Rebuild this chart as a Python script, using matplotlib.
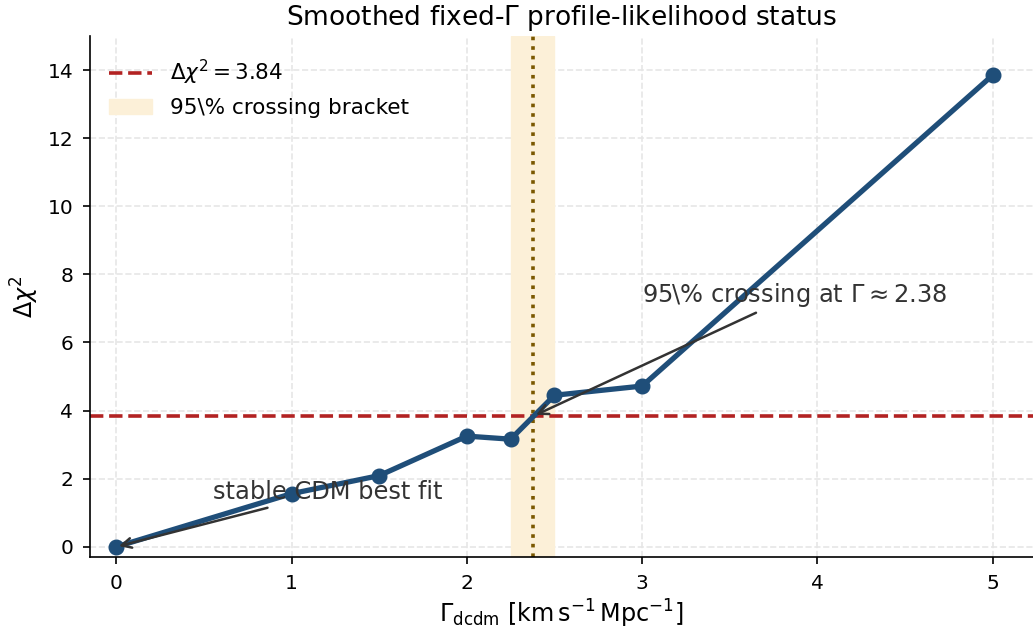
import matplotlib
matplotlib.use("Agg")
import matplotlib.pyplot as plt

gamma = [0.0, 1.0, 1.5, 2.0, 2.25, 2.5, 3.0, 5.0]
dchi2 = [0.0, 1.56, 2.09, 3.25, 3.16, 4.45, 4.72, 13.85]
threshold = 3.84
bracket = [2.25, 2.5]
crossing = 2.38
xticks = [0, 1, 2, 3, 4, 5]
yticks = [0, 2, 4, 6, 8, 10, 12, 14]

plt.rcParams['font.family'] = ['DejaVu Sans']
fig = plt.figure(figsize=(10.33, 6.34), dpi=100)
ax = fig.add_axes([90/1033, 77/634, (1033-90)/1033, (557-36)/634])

ax.grid(True, linestyle='--', color='#e6e6e6', linewidth=1.2)
ax.set_axisbelow(True)

hline = ax.axhline(threshold, color='#b22222', linestyle='--', linewidth=2.6, zorder=2,
                   label=r'$\Delta\chi^2 = 3.84$')
span = ax.axvspan(bracket[0], bracket[1], color='#fcf0d8', zorder=1, label=r'95\% crossing bracket')
ax.axvline(crossing, color='#7a5800', linestyle=':', linewidth=2.6, zorder=2)
ax.plot(gamma, dchi2, color='#1f4e79', linewidth=3.8, marker='o', markersize=10.5, zorder=3)

ax.annotate(r'95\% crossing at $\Gamma \approx 2.38$', xy=(crossing, threshold),
            xytext=(3.0, 7.4), ha='left', va='center', fontsize=17.4, color='#333333',
            arrowprops=dict(arrowstyle='->', color='#333333', lw=1.8), zorder=5)
ax.annotate('stable CDM best fit', xy=(gamma[0], dchi2[0]),
            xytext=(0.55, 1.6), ha='left', va='center', fontsize=17.4, color='#333333',
            arrowprops=dict(arrowstyle='->', color='#333333', lw=1.8), zorder=5)

ax.set_xlim(-0.15, 5.23)
ax.set_ylim(-0.3, 15.0)
ax.set_xticks(xticks)
ax.set_yticks(yticks)
ax.tick_params(labelsize=14.5, length=5, width=1.2, pad=7)
for s in ['top', 'right']:
    ax.spines[s].set_visible(False)
for s in ['left', 'bottom']:
    ax.spines[s].set_linewidth(1.2)

ax.set_xlabel(r'$\Gamma_{\rm dcdm}$ [$\mathrm{km\,s^{-1}\,Mpc^{-1}}$]', fontsize=17.2, labelpad=4)
ax.set_ylabel(r'$\Delta\chi^2$', fontsize=17.2, labelpad=5)
ax.set_title(r'Smoothed fixed-$\Gamma$ profile-likelihood status', fontsize=19, pad=8)

ax.legend(handles=[hline, span], loc='upper left', fontsize=15.5, frameon=False,
          handlelength=2.0, bbox_to_anchor=(0.0, 0.995))

fig.savefig('out.png', dpi=100)
